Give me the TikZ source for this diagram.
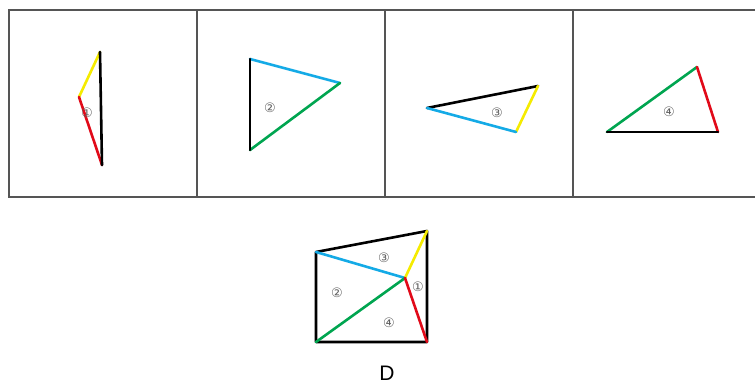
\documentclass[tikz,border=0pt]{standalone}
\usepackage{fontspec}
\setmainfont{Liberation Sans}
\newfontfamily\circfont{DejaVu Sans}
\definecolor{edgeblue}{RGB}{20,170,230}
\definecolor{edgegreen}{RGB}{0,165,80}
\definecolor{edgeyellow}{RGB}{245,235,0}
\definecolor{edgered}{RGB}{225,10,25}
\definecolor{framegray}{RGB}{85,85,85}
\usetikzlibrary{positioning}

\begin{document}
\begin{tikzpicture}[
    x=1pt, y=-1pt,
    frame/.style={draw=framegray, line width=2pt},
    piece/.style={line width=2.6pt, line cap=round, line join=round},
    tag/.style={font=\circfont\fontsize{13}{13}\selectfont, text=gray!75!black, inner sep=0pt},
  ]
  \useasboundingbox (0,0) rectangle (755,385);

  %% --- frame of the four cells ---
  \draw[frame] (756,10) -- (9,10) -- (9,197) -- (756,197);
  \foreach \x in {197,385,573}
    \draw[frame] (\x,10) -- (\x,197);

  %% --- piece 1 ---
  \coordinate (a1) at (100,52);
  \coordinate (b1) at (79,97);
  \coordinate (c1) at (102,165);
  \draw[piece, edgeyellow] (a1) -- (b1);
  \draw[piece, edgered] (b1) -- (c1);
  \draw[piece, black] (c1) -- (a1);
  \node[tag] (t1) at (87,113) {①};

  %% --- piece 2 ---
  \coordinate (a2) at (250,59);
  \coordinate (b2) at (340,83);
  \coordinate (c2) at (250,150);
  \draw[piece, edgeblue] (a2) -- (b2);
  \draw[piece, edgegreen] (b2) -- (c2);
  \draw[piece, black] (c2) -- (a2);
  \node[tag] (t2) at (270,108) {②};

  %% --- piece 3 ---
  \coordinate (a3) at (427,108);
  \coordinate (b3) at (538,86);
  \coordinate (c3) at (516,132);
  \draw[piece, black] (a3) -- (b3);
  \draw[piece, edgeyellow] (b3) -- (c3);
  \draw[piece, edgeblue] (c3) -- (a3);
  \node[tag] (t3) at (497,113) {③};

  %% --- piece 4 ---
  \coordinate (a4) at (607,132);
  \coordinate (b4) at (697,67);
  \coordinate (c4) at (718,132);
  \draw[piece, edgegreen] (a4) -- (b4);
  \draw[piece, edgered] (b4) -- (c4);
  \draw[piece, black] (c4) -- (a4);
  \node[tag] (t4) at (669,112) {④};

  %% --- assembled figure D ---
  \coordinate (tl) at (316,252);
  \coordinate (tr) at (427,231);
  \coordinate (br) at (427,342);
  \coordinate (bl) at (316,342);
  \coordinate (m) at (405,278);
  \draw[piece, black] (bl) -- (tl) -- (tr) -- (br) -- cycle;
  \draw[piece, edgeblue] (tl) -- (m);
  \draw[piece, edgeyellow] (m) -- (tr);
  \draw[piece, edgegreen] (bl) -- (m);
  \draw[piece, edgered] (m) -- (br);
  \node[tag] (d3) at (384,258) {③};
  \node[tag] (d2) at (337,293) {②};
  \node[tag] (d1) at (418,287) {①};
  \node[tag] (d4) at (389,323) {④};

  \node[font=\fontsize{21}{21}\selectfont, inner sep=0pt] (lab) at (387,373) {D};
\end{tikzpicture}
\end{document}
